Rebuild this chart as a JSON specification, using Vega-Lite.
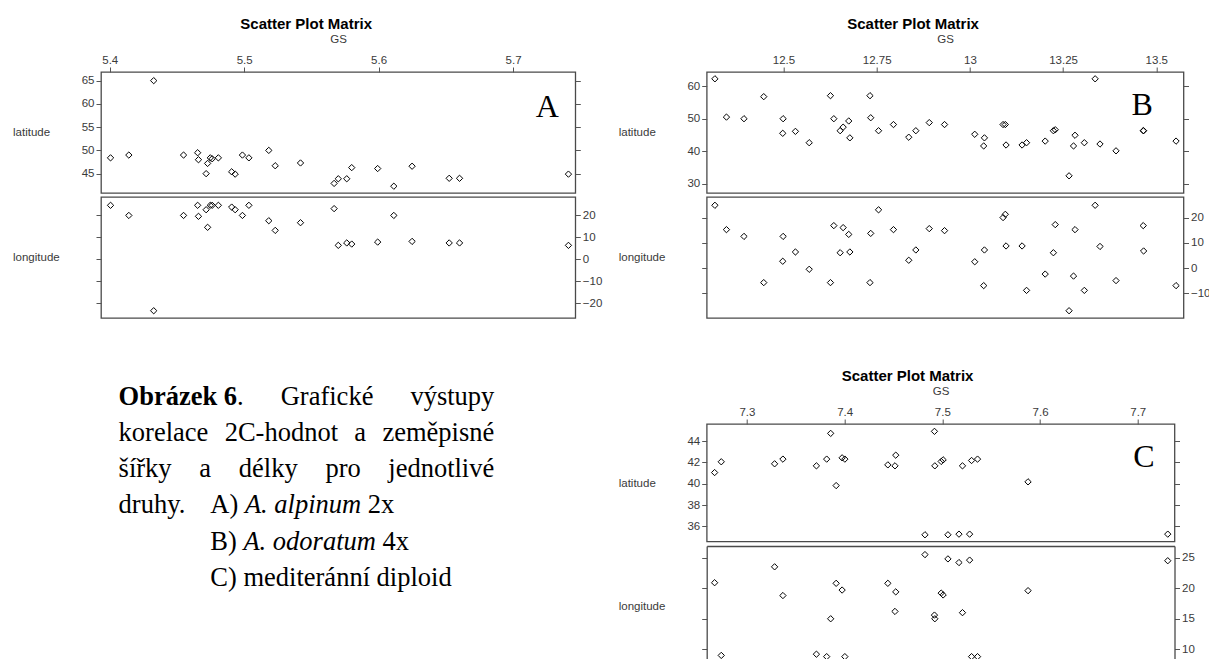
{
  "$schema": "https://vega.github.io/schema/vega-lite/v6.json",
  "autosize": {"type": "pad"},
  "padding": {"left": 11, "top": 16, "right": 0, "bottom": 0},
  "background": "white",
  "columns": 2,
  "align": {"row": "each", "column": "none"},
  "bounds": "flush",
  "spacing": {"row": 4, "column": 130.7},
  "config": {
    "view": {"stroke": "#4a4a4a", "strokeWidth": 1.3},
    "axis": {"grid": false, "domain": false, "tickColor": "#555555", "tickSize": 5, "tickWidth": 1, "labelFont": "Liberation Sans", "labelFontSize": 11.5, "labelColor": "#3a3a3a", "labelPadding": 2, "labelFlush": false, "labelOverlap": false, "titleFont": "Liberation Sans", "titleFontSize": 11.5, "titleFontWeight": "normal", "titleColor": "#3a3a3a"},
    "title": {"font": "Liberation Sans", "fontSize": 15, "fontWeight": "bold", "color": "#000000"},
    "point": {"shape": "diamond", "filled": false, "stroke": "#000000", "strokeWidth": 1, "size": 40, "opacity": 1}
  },
  "datasets": {
    "A": [
      {"gs": 5.4006, "lat": 48.4, "lon": 24.4}, {"gs": 5.4142, "lat": 49.0, "lon": 19.8}, {"gs": 5.4327, "lat": 65.0, "lon": -23.5},
      {"gs": 5.4549, "lat": 49.0, "lon": 19.8}, {"gs": 5.4654, "lat": 49.5, "lon": 24.4}, {"gs": 5.4660, "lat": 48.0, "lon": 19.4},
      {"gs": 5.4717, "lat": 45.0, "lon": 22.4}, {"gs": 5.4728, "lat": 47.2, "lon": 14.4}, {"gs": 5.4748, "lat": 48.4, "lon": 24.4},
      {"gs": 5.4762, "lat": 48.2, "lon": 24.4}, {"gs": 5.4808, "lat": 48.4, "lon": 24.4}, {"gs": 5.4907, "lat": 45.4, "lon": 23.6},
      {"gs": 5.4933, "lat": 44.9, "lon": 22.4}, {"gs": 5.4987, "lat": 49.0, "lon": 19.8}, {"gs": 5.5035, "lat": 48.4, "lon": 24.4},
      {"gs": 5.5183, "lat": 50.0, "lon": 17.4}, {"gs": 5.5231, "lat": 46.7, "lon": 13.0}, {"gs": 5.5419, "lat": 47.3, "lon": 16.5},
      {"gs": 5.5669, "lat": 42.9, "lon": 22.9}, {"gs": 5.5700, "lat": 43.9, "lon": 6.2}, {"gs": 5.5763, "lat": 43.9, "lon": 7.3},
      {"gs": 5.5800, "lat": 46.3, "lon": 6.8}, {"gs": 5.5993, "lat": 46.1, "lon": 7.7}, {"gs": 5.6113, "lat": 42.3, "lon": 19.8},
      {"gs": 5.6249, "lat": 46.6, "lon": 8.0}, {"gs": 5.6525, "lat": 44.0, "lon": 7.3}, {"gs": 5.6602, "lat": 44.0, "lon": 7.3},
      {"gs": 5.7412, "lat": 44.9, "lon": 6.2}
    ],
    "B": [
      {"gs": 12.316, "lat": 62.3, "lon": 25.0}, {"gs": 12.347, "lat": 50.5, "lon": 15.3}, {"gs": 12.394, "lat": 50.0, "lon": 12.6},
      {"gs": 12.447, "lat": 56.8, "lon": -5.8}, {"gs": 12.499, "lat": 50.0, "lon": 12.6}, {"gs": 12.498, "lat": 45.5, "lon": 2.7},
      {"gs": 12.532, "lat": 46.1, "lon": 6.4}, {"gs": 12.569, "lat": 42.6, "lon": -0.5}, {"gs": 12.626, "lat": 57.1, "lon": -5.8},
      {"gs": 12.635, "lat": 50.0, "lon": 16.9}, {"gs": 12.652, "lat": 46.3, "lon": 6.1}, {"gs": 12.660, "lat": 47.4, "lon": 16.1},
      {"gs": 12.675, "lat": 49.3, "lon": 13.4}, {"gs": 12.678, "lat": 44.1, "lon": 6.4}, {"gs": 12.732, "lat": 57.1, "lon": -5.8},
      {"gs": 12.734, "lat": 50.3, "lon": 13.8}, {"gs": 12.755, "lat": 46.3, "lon": 23.2}, {"gs": 12.795, "lat": 48.2, "lon": 15.3},
      {"gs": 12.836, "lat": 44.3, "lon": 3.1}, {"gs": 12.855, "lat": 46.3, "lon": 7.2}, {"gs": 12.891, "lat": 48.8, "lon": 15.7},
      {"gs": 12.932, "lat": 48.2, "lon": 14.9}, {"gs": 13.013, "lat": 45.2, "lon": 2.5}, {"gs": 13.039, "lat": 44.1, "lon": 7.2},
      {"gs": 13.037, "lat": 41.6, "lon": -7.0}, {"gs": 13.089, "lat": 48.2, "lon": 20.1}, {"gs": 13.095, "lat": 48.2, "lon": 21.4},
      {"gs": 13.097, "lat": 41.9, "lon": 8.8}, {"gs": 13.140, "lat": 41.9, "lon": 8.8}, {"gs": 13.152, "lat": 42.6, "lon": -8.9},
      {"gs": 13.202, "lat": 43.1, "lon": -2.4}, {"gs": 13.224, "lat": 46.3, "lon": 6.1}, {"gs": 13.229, "lat": 46.6, "lon": 17.3},
      {"gs": 13.278, "lat": 41.6, "lon": -3.2}, {"gs": 13.282, "lat": 44.9, "lon": 15.3}, {"gs": 13.266, "lat": 32.4, "lon": -17.0},
      {"gs": 13.307, "lat": 42.6, "lon": -8.9}, {"gs": 13.336, "lat": 62.3, "lon": 25.0}, {"gs": 13.349, "lat": 42.2, "lon": 8.6},
      {"gs": 13.392, "lat": 40.1, "lon": -5.0}, {"gs": 13.465, "lat": 46.3, "lon": 16.9}, {"gs": 13.466, "lat": 46.3, "lon": 6.8},
      {"gs": 13.553, "lat": 43.1, "lon": -7.0}
    ],
    "C": [
      {"gs": 7.2669, "lat": 41.05, "lon": 20.9}, {"gs": 7.2737, "lat": 42.06, "lon": 9.0}, {"gs": 7.3283, "lat": 41.87, "lon": 23.5},
      {"gs": 7.3368, "lat": 42.31, "lon": 18.8}, {"gs": 7.3711, "lat": 41.68, "lon": 9.2}, {"gs": 7.3816, "lat": 42.31, "lon": 8.8},
      {"gs": 7.3857, "lat": 44.72, "lon": 15.0}, {"gs": 7.3913, "lat": 39.83, "lon": 20.8}, {"gs": 7.3974, "lat": 42.43, "lon": 19.7},
      {"gs": 7.4002, "lat": 42.31, "lon": 8.8}, {"gs": 7.4442, "lat": 41.77, "lon": 20.8}, {"gs": 7.4515, "lat": 41.68, "lon": 16.2},
      {"gs": 7.4523, "lat": 42.68, "lon": 19.4}, {"gs": 7.4822, "lat": 35.22, "lon": 25.5}, {"gs": 7.4919, "lat": 44.91, "lon": 15.6},
      {"gs": 7.4923, "lat": 41.68, "lon": 15.0}, {"gs": 7.4988, "lat": 42.09, "lon": 19.2}, {"gs": 7.5008, "lat": 42.24, "lon": 18.9},
      {"gs": 7.5057, "lat": 35.22, "lon": 24.8}, {"gs": 7.5170, "lat": 35.28, "lon": 24.2}, {"gs": 7.5206, "lat": 41.68, "lon": 16.0},
      {"gs": 7.5279, "lat": 35.28, "lon": 24.6}, {"gs": 7.5299, "lat": 42.18, "lon": 8.8}, {"gs": 7.5360, "lat": 42.31, "lon": 8.8},
      {"gs": 7.5877, "lat": 40.18, "lon": 19.6}, {"gs": 7.7307, "lat": 35.28, "lon": 24.5}
    ],
    "caption": [
      {"line": 1, "pos": 0, "text": "Obrázek 6", "emph": "bold"},
      {"line": 1, "pos": 31.54, "text": ".", "emph": "normal"},
      {"line": 1, "pos": 43.15, "text": "Grafické", "emph": "normal"},
      {"line": 1, "pos": 77.67, "text": "výstupy", "emph": "normal"},
      {"line": 2, "pos": 0, "text": "korelace", "emph": "normal"},
      {"line": 2, "pos": 28.24, "text": "2C-hodnot", "emph": "normal"},
      {"line": 2, "pos": 62.74, "text": "a", "emph": "normal"},
      {"line": 2, "pos": 70.22, "text": "zeměpisné", "emph": "normal"},
      {"line": 3, "pos": 0, "text": "šířky", "emph": "normal"},
      {"line": 3, "pos": 21.48, "text": "a", "emph": "normal"},
      {"line": 3, "pos": 32.0, "text": "délky", "emph": "normal"},
      {"line": 3, "pos": 55.04, "text": "pro", "emph": "normal"},
      {"line": 3, "pos": 71.78, "text": "jednotlivé", "emph": "normal"},
      {"line": 4, "pos": 0, "text": "druhy.", "emph": "normal"},
      {"line": 4, "pos": 24.41, "text": "A)", "emph": "normal"},
      {"line": 4, "pos": 33.62, "text": "A. alpinum", "emph": "italic"},
      {"line": 4, "pos": 66.33, "text": "2x", "emph": "normal"},
      {"line": 5, "pos": 24.41, "text": "B)", "emph": "normal"},
      {"line": 5, "pos": 33.22, "text": "A. odoratum", "emph": "italic"},
      {"line": 5, "pos": 70.24, "text": "4x", "emph": "normal"},
      {"line": 6, "pos": 24.41, "text": "C) mediteránní diploid", "emph": "normal"}
    ]
  },
  "concat": [
    {
      "width": 474.3, "height": 121,
      "title": {"text": "Scatter Plot Matrix", "anchor": "middle", "frame": "group", "dx": -32, "offset": 2},
      "layer": [
        {"data": {"name": "A"}, "mark": {"type": "point"},
         "encoding": {
           "x": {"field": "gs", "type": "quantitative", "scale": {"domain": [5.3935, 5.7463], "nice": false, "zero": false},
                 "axis": {"orient": "top", "values": [5.4, 5.5, 5.6, 5.7], "format": ".1f", "title": "GS", "titleY": -32.3, "titleBaseline": "middle"}},
           "y": {"field": "lat", "type": "quantitative", "scale": {"domain": [40.84, 66.86], "nice": false, "zero": false},
                 "axis": {"orient": "left", "values": [45, 50, 55, 60, 65], "title": "latitude", "titleAngle": 0, "titleAlign": "left", "titleBaseline": "middle", "titleX": -88.5, "titleY": 60.5}}
         }},
        {"data": {"name": "A"}, "mark": {"type": "point", "opacity": 0},
         "encoding": {
           "x": {"field": "gs", "type": "quantitative", "axis": {"title": "GS"}},
           "y": {"field": "lat", "type": "quantitative", "axis": {"orient": "right", "values": [45, 50, 55, 60, 65], "labels": false, "title": null}}
         }},
        {"data": {"values": [{"letter": "A"}]}, "mark": {"type": "text", "font": "Liberation Serif", "fontSize": 32, "align": "center", "baseline": "alphabetic", "color": "#000000"},
         "encoding": {
           "x": {"datum": 5.7255, "type": "quantitative", "axis": {"title": "GS"}},
           "y": {"datum": 57.1, "type": "quantitative", "axis": null},
           "text": {"field": "letter"}
         }}
      ],
      "resolve": {"axis": {"y": "independent"}}
    },
    {
      "width": 476.8, "height": 121,
      "title": {"text": "Scatter Plot Matrix", "anchor": "middle", "frame": "group", "dx": -32, "offset": 2},
      "layer": [
        {"data": {"name": "B"}, "mark": {"type": "point"},
         "encoding": {
           "x": {"field": "gs", "type": "quantitative", "scale": {"domain": [12.294, 13.573], "nice": false, "zero": false},
                 "axis": {"orient": "top", "values": [12.5, 12.75, 13, 13.25, 13.5], "format": ".4~g", "title": "GS", "titleY": -32.3, "titleBaseline": "middle"}},
           "y": {"field": "lat", "type": "quantitative", "scale": {"domain": [27.1, 64.4], "nice": false, "zero": false},
                 "axis": {"orient": "left", "values": [30, 40, 50, 60], "title": "latitude", "titleAngle": 0, "titleAlign": "left", "titleBaseline": "middle", "titleX": -88.5, "titleY": 60.5}}
         }},
        {"data": {"name": "B"}, "mark": {"type": "point", "opacity": 0},
         "encoding": {
           "x": {"field": "gs", "type": "quantitative", "axis": {"title": "GS"}},
           "y": {"field": "lat", "type": "quantitative", "axis": {"orient": "right", "values": [30, 40, 50, 60], "labels": false, "title": null}}
         }},
        {"data": {"values": [{"letter": "B"}]}, "mark": {"type": "text", "font": "Liberation Serif", "fontSize": 32, "align": "center", "baseline": "alphabetic", "color": "#000000"},
         "encoding": {
           "x": {"datum": 13.462, "type": "quantitative", "axis": {"title": "GS"}},
           "y": {"datum": 51.25, "type": "quantitative", "axis": null},
           "text": {"field": "letter"}
         }}
      ],
      "resolve": {"axis": {"y": "independent"}}
    },
    {
      "width": 474.3, "height": 121,
      "layer": [
        {"data": {"name": "A"}, "mark": {"type": "point"},
         "encoding": {
           "x": {"field": "gs", "type": "quantitative", "scale": {"domain": [5.3935, 5.7463], "nice": false, "zero": false}, "axis": null},
           "y": {"field": "lon", "type": "quantitative", "scale": {"domain": [-26.8, 28.18], "nice": false, "zero": false},
                 "axis": {"orient": "left", "values": [-20, -10, 0, 10, 20], "labels": false, "title": "longitude", "titleAngle": 0, "titleAlign": "left", "titleBaseline": "middle", "titleX": -88.5, "titleY": 60.5}}
         }},
        {"data": {"name": "A"}, "mark": {"type": "point", "opacity": 0},
         "encoding": {
           "x": {"field": "gs", "type": "quantitative", "axis": null},
           "y": {"field": "lon", "type": "quantitative", "axis": {"orient": "right", "values": [-20, -10, 0, 10, 20], "title": null}}
         }}
      ],
      "resolve": {"axis": {"y": "independent"}}
    },
    {
      "width": 476.8, "height": 121,
      "layer": [
        {"data": {"name": "B"}, "mark": {"type": "point"},
         "encoding": {
           "x": {"field": "gs", "type": "quantitative", "scale": {"domain": [12.294, 13.573], "nice": false, "zero": false}, "axis": null},
           "y": {"field": "lon", "type": "quantitative", "scale": {"domain": [-19.9, 28.3], "nice": false, "zero": false},
                 "axis": {"orient": "left", "values": [-10, 0, 10, 20], "labels": false, "title": "longitude", "titleAngle": 0, "titleAlign": "left", "titleBaseline": "middle", "titleX": -88.5, "titleY": 60.5}}
         }},
        {"data": {"name": "B"}, "mark": {"type": "point", "opacity": 0},
         "encoding": {
           "x": {"field": "gs", "type": "quantitative", "axis": null},
           "y": {"field": "lon", "type": "quantitative", "axis": {"orient": "right", "values": [-10, 0, 10, 20], "title": null}}
         }}
      ],
      "resolve": {"axis": {"y": "independent"}}
    },
    {"width": 10, "height": 97.2, "view": {"stroke": null}, "data": {"values": []}, "mark": "point"},
    {"width": 10, "height": 97.2, "view": {"stroke": null}, "data": {"values": []}, "mark": "point"},
    {
      "width": 470.3, "height": 117.5,
      "view": {"stroke": null},
      "data": {"name": "caption"},
      "encoding": {
        "x": {"field": "pos", "type": "quantitative", "scale": {"domain": [-4.685, 120.5], "nice": false, "zero": false}, "axis": null},
        "y": {"field": "line", "type": "quantitative", "scale": {"domain": [1.537, 4.774], "reverse": true, "nice": false, "zero": false}, "axis": null},
        "text": {"field": "text"}
      },
      "layer": [
        {"transform": [{"filter": "datum.emph === 'normal'"}], "mark": {"type": "text", "align": "left", "baseline": "alphabetic", "font": "Liberation Serif", "fontSize": 26.5, "color": "#000000"}},
        {"transform": [{"filter": "datum.emph === 'bold'"}], "mark": {"type": "text", "align": "left", "baseline": "alphabetic", "font": "Liberation Serif", "fontSize": 26.5, "fontWeight": "bold", "color": "#000000"}},
        {"transform": [{"filter": "datum.emph === 'italic'"}], "mark": {"type": "text", "align": "left", "baseline": "alphabetic", "font": "Liberation Serif", "fontSize": 26.5, "fontStyle": "italic", "color": "#000000"}}
      ]
    },
    {
      "width": 467.8, "height": 117.5,
      "title": {"text": "Scatter Plot Matrix", "anchor": "middle", "frame": "group", "dx": -33, "offset": 2},
      "layer": [
        {"data": {"name": "C"}, "mark": {"type": "point"},
         "encoding": {
           "x": {"field": "gs", "type": "quantitative", "scale": {"domain": [7.2588, 7.7376], "nice": false, "zero": false},
                 "axis": {"orient": "top", "values": [7.3, 7.4, 7.5, 7.6, 7.7], "format": ".1f", "title": "GS", "titleY": -32.3, "titleBaseline": "middle"}},
           "y": {"field": "lat", "type": "quantitative", "scale": {"domain": [34.59, 45.6], "nice": false, "zero": false},
                 "axis": {"orient": "left", "values": [36, 38, 40, 42, 44], "title": "latitude", "titleAngle": 0, "titleAlign": "left", "titleBaseline": "middle", "titleX": -88.5, "titleY": 59.5}}
         }},
        {"data": {"name": "C"}, "mark": {"type": "point", "opacity": 0},
         "encoding": {
           "x": {"field": "gs", "type": "quantitative", "axis": {"title": "GS"}},
           "y": {"field": "lat", "type": "quantitative", "axis": {"orient": "right", "values": [36, 38, 40, 42, 44], "labels": false, "title": null}}
         }},
        {"data": {"values": [{"letter": "C"}]}, "mark": {"type": "text", "font": "Liberation Serif", "fontSize": 32, "align": "center", "baseline": "alphabetic", "color": "#000000"},
         "encoding": {
           "x": {"datum": 7.7064, "type": "quantitative", "axis": {"title": "GS"}},
           "y": {"datum": 41.58, "type": "quantitative", "axis": null},
           "text": {"field": "letter"}
         }}
      ],
      "resolve": {"axis": {"y": "independent"}}
    },
    {"width": 470.3, "height": 10, "view": {"stroke": null}, "data": {"values": []}, "mark": "point"},
    {
      "width": 467.8, "height": 114,
      "view": {"stroke": null},
      "layer": [
        {"data": {"name": "C"}, "mark": {"type": "point"},
         "encoding": {
           "x": {"field": "gs", "type": "quantitative", "scale": {"domain": [7.2588, 7.7376], "nice": false, "zero": false},
                 "axis": {"orient": "top", "labels": false, "ticks": false, "domain": true, "domainColor": "#4a4a4a", "domainWidth": 1.3, "title": null}},
           "y": {"field": "lon", "type": "quantitative", "scale": {"domain": [8.25, 26.91], "nice": false, "zero": false},
                 "axis": {"orient": "left", "values": [10, 15, 20, 25], "labels": false, "domain": true, "domainColor": "#4a4a4a", "domainWidth": 1.3, "title": "longitude", "titleAngle": 0, "titleAlign": "left", "titleBaseline": "middle", "titleX": -88.5, "titleY": 60}}
         }},
        {"data": {"name": "C"}, "mark": {"type": "point", "opacity": 0},
         "encoding": {
           "x": {"field": "gs", "type": "quantitative", "axis": {"title": null}},
           "y": {"field": "lon", "type": "quantitative", "axis": {"orient": "right", "values": [10, 15, 20, 25], "domain": true, "domainColor": "#4a4a4a", "domainWidth": 1.3, "title": null}}
         }}
      ],
      "resolve": {"axis": {"y": "independent"}}
    }
  ]
}
